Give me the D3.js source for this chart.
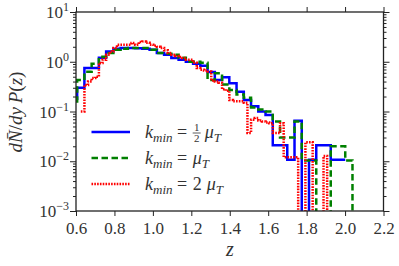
<!DOCTYPE html>
<html>
<head>
<meta charset="utf-8">
<script src="https://d3js.org/d3.v7.min.js"></script>
<style>
  body { margin: 0; background: #fff; }
  svg text { fill: #333; }
  .series { fill: none; stroke-width: 2.5; }
</style>
</head>
<body>
<svg id="chart" width="399" height="266"></svg>
<script>
// histogram grids (in z)
var binStart = 0.606, binWidth = 0.0377;     // blue + green
var redStart = 0.625, redWidth = 0.01885;    // red uses half-width bins

// heights, first entry is the starting point of the step line
var blueVals = [0.17, 0.30, 0.75, 0.75, 1.2, 1.6, 1.83, 1.9, 1.9, 1.87, 1.83, 1.74, 1.5, 1.38,
  1.19, 1.1, 1.0, 0.91, 0.83, 0.62, 0.43, 0.49, 0.37, 0.25, 0.17, 0.127, 0.1, 0.085, 0.021,
  0.021, 0.0107, 0.065, 0, 0.0107, 0.021, 0.021, 0.0107, 0.0107];
var greenVals = [0.15, 0.43, 0.63, 0.91, 1.26, 1.5, 1.74, 1.83, 1.9, 1.9, 1.9, 1.74, 1.5, 1.45,
  1.38, 1.2, 1.0, 1.0, 0.95, 0.43, 0.59, 0.35, 0.27, 0.22, 0.19, 0.12, 0.11, 0.1, 0.063, 0.03,
  0.03, 0.063, 0.0104, 0.0104, 0, 0, 0.02, 0.02, 0.0104, 0];
var redVals = [0.1, 0.1, 0.34, 0.4, 0.47, 0.5, 0.94, 1.1, 1.38, 1.6, 1.9, 2.2, 2.2, 2.2, 2.2,
  2.37, 2.2, 2.5, 2.56, 2.4, 2.2, 2.1, 2.0, 1.9, 1.7, 1.5, 1.38, 1.3, 1.25, 1.19, 1.1, 1.1,
  0.95, 0.75, 0.69, 0.67, 0.64, 0.42, 0.40, 0.38, 0.28, 0.26, 0.17, 0.16, 0.16, 0.16, 0.15,
  0.037, 0.068, 0.074, 0.066, 0.063, 0.06, 0.058, 0.037, 0.037, 0.058, 0.012, 0.012, 0.012,
  0.012, 0, 0, 0.024, 0.024, 0, 0, 0, 0.0128, 0];

var xTicks = [0.6, 0.8, 1.0, 1.2, 1.4, 1.6, 1.8, 2.0, 2.2];
var yExps = [-3, -2, -1, 0, 1];
var legendCoef = ["1/2", "", "2"];

var serif = "'Liberation Serif', 'DejaVu Serif', 'Noto Serif', 'Times New Roman', Times, serif";
var svg = d3.select("#chart");
var pl = 76, pr = 383.5, pt = 12, pb = 211;

var x = d3.scaleLinear().domain([0.6, 2.2]).range([pl, pr]);
var y = d3.scaleLog().domain([1e-3, 1e1]).range([pb, pt]);

svg.append("clipPath").attr("id", "clip")
  .append("rect").attr("x", pl).attr("y", pt)
  .attr("width", pr - pl).attr("height", pb - pt);

function pts(start, w, vals) {
  return vals.map(function (v, i) { return { z: start + i * w, v: v }; });
}
var line = d3.line()
  .x(function (d) { return x(d.z); })
  .y(function (d) { return y(d.v > 0 ? d.v : 1e-6); })
  .curve(d3.curveStepBefore);

var series = [
  { data: pts(binStart, binWidth, blueVals), color: "#0000ff", dash: null },
  { data: pts(binStart, binWidth, greenVals), color: "#008000", dash: "6.5,3.5" },
  { data: pts(redStart, redWidth, redVals), color: "#ff0000", dash: "1.6,1.2" }
];

var plot = svg.append("g").attr("clip-path", "url(#clip)");
series.forEach(function (s) {
  plot.append("path").datum(s.data)
    .attr("class", "series")
    .attr("d", line)
    .attr("stroke", s.color)
    .attr("stroke-dasharray", s.dash);
});

// minor log ticks
var minor = [];
yExps.slice(0, -1).forEach(function (e) {
  for (var m = 2; m < 10; m++) minor.push(m * Math.pow(10, e));
});
var majors = yExps.map(function (e) { return Math.pow(10, e); });

function styleAxis(g) {
  g.select(".domain").remove();
  g.attr("font-family", serif);
  g.selectAll("line").attr("stroke", "#222").attr("stroke-width", 1);
}

svg.append("g").attr("transform", "translate(0," + pb + ")")
  .call(d3.axisBottom(x).tickValues(xTicks).tickSize(5).tickPadding(6)
    .tickFormat(d3.format(".1f")))
  .call(styleAxis)
  .selectAll("text").attr("font-size", 17).attr("fill", "#333")
  .style("font-family", serif);
svg.append("g").attr("transform", "translate(0," + pt + ")")
  .call(d3.axisTop(x).tickValues(xTicks).tickSize(5).tickFormat(""))
  .call(styleAxis);

[[d3.axisLeft, pl], [d3.axisRight, pr]].forEach(function (a) {
  svg.append("g").attr("transform", "translate(" + a[1] + ",0)")
    .call(a[0](y).tickValues(minor).tickSize(3).tickFormat(""))
    .call(styleAxis);
  svg.append("g").attr("transform", "translate(" + a[1] + ",0)")
    .call(a[0](y).tickValues(majors).tickSize(6).tickFormat(""))
    .call(styleAxis);
});

// y tick labels 10^n
yExps.forEach(function (e) {
  var t = svg.append("text")
    .attr("x", 69).attr("y", y(Math.pow(10, e)) + 6)
    .attr("text-anchor", "end").attr("font-size", 17).style("font-family", serif);
  t.append("tspan").text("10");
  t.append("tspan").attr("dy", -7).attr("font-size", 12).text(e < 0 ? "\u2212" + (-e) : e);
});

// frame
svg.append("rect").attr("x", pl).attr("y", pt)
  .attr("width", pr - pl).attr("height", pb - pt)
  .attr("fill", "none").attr("stroke", "#222").attr("stroke-width", 1.3);

// axis labels
svg.append("text").attr("x", 230).attr("y", 256)
  .attr("text-anchor", "middle").attr("font-size", 20).style("font-family", serif)
  .attr("font-style", "italic").text("z");

var yl = svg.append("text")
  .attr("transform", "translate(22,112) rotate(-90)").style("font-family", serif)
  .attr("text-anchor", "middle").attr("font-size", 19);
yl.append("tspan").attr("font-style", "italic").text("dN\u0304");
yl.append("tspan").text("/");
yl.append("tspan").attr("font-style", "italic").text("dy");
yl.append("tspan").text("\u2009");
yl.append("tspan").attr("font-style", "italic").text("P");
yl.append("tspan").text("(");
yl.append("tspan").attr("font-style", "italic").text("z");
yl.append("tspan").text(")");

// legend
series.forEach(function (s, i) {
  var cy = 132 + i * 26;
  svg.append("line").attr("x1", 91.5).attr("x2", 130).attr("y1", cy).attr("y2", cy)
    .attr("stroke", s.color).attr("stroke-width", 2.5)
    .attr("stroke-dasharray", s.dash);
  var t = svg.append("text").attr("x", 145).attr("y", cy + 6).attr("font-size", 18)
    .style("font-family", serif);
  t.append("tspan").attr("font-style", "italic").text("k");
  t.append("tspan").attr("font-style", "italic").attr("font-size", 13).attr("dy", 4).text("min");
  t.append("tspan").attr("dy", -4).text("\u00a0=\u00a0");
  var xe = 145 + t.node().getComputedTextLength() + 1;
  var c = legendCoef[i];
  if (c.indexOf("/") > 0) {
    var parts = c.split("/");
    svg.append("text").attr("x", xe + 4).attr("y", cy - 1).attr("text-anchor", "middle")
      .attr("font-size", 11).style("font-family", serif).text(parts[0]);
    svg.append("line").attr("x1", xe).attr("x2", xe + 8).attr("y1", cy + 1).attr("y2", cy + 1)
      .attr("stroke", "#333").attr("stroke-width", 0.8);
    svg.append("text").attr("x", xe + 4).attr("y", cy + 10).attr("text-anchor", "middle")
      .attr("font-size", 11).style("font-family", serif).text(parts[1]);
    xe += 12;
  } else if (c) {
    var n = svg.append("text").attr("x", xe).attr("y", cy + 6).attr("font-size", 18)
      .style("font-family", serif).text(c);
    xe += n.node().getComputedTextLength() + 5;
  }
  var m = svg.append("text").attr("x", xe).attr("y", cy + 6).attr("font-size", 18)
    .style("font-family", serif);
  m.append("tspan").attr("font-style", "italic").text("\u03bc");
  m.append("tspan").attr("font-style", "italic").attr("font-size", 13).attr("dy", 4).text("T");
});
</script>
</body>
</html>
